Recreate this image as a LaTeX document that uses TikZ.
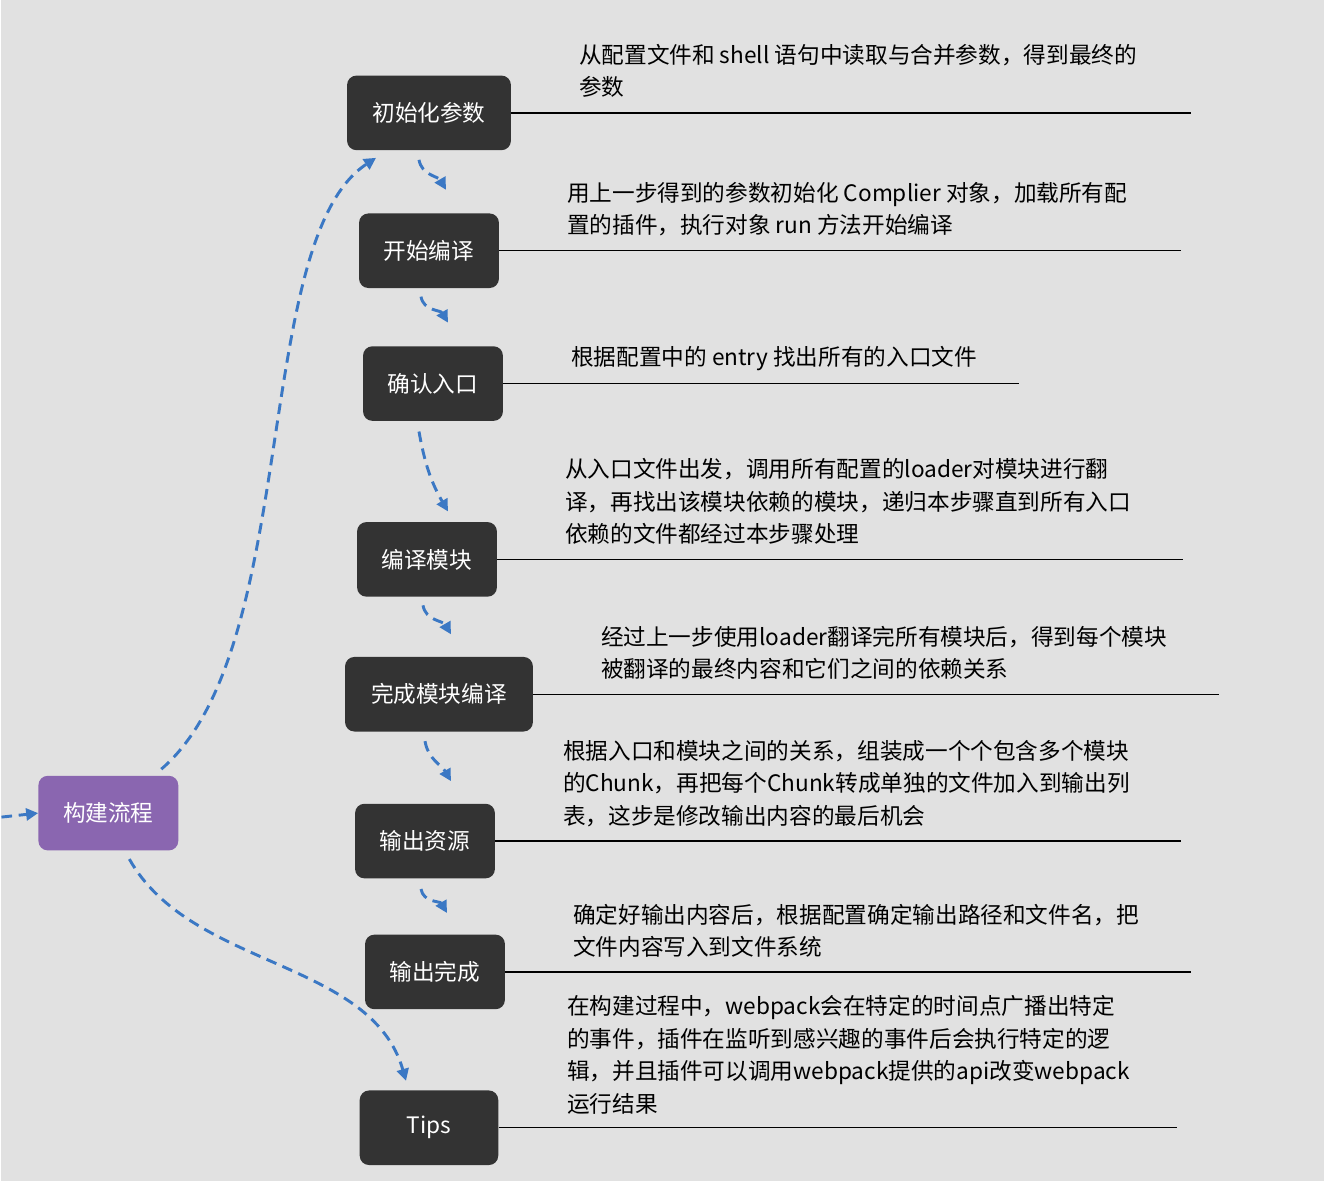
\documentclass[tikz,border=0pt]{standalone}
\usepackage{fontspec}
\setmainfont{Noto Sans CJK SC}
\usetikzlibrary{arrows.meta}
\definecolor{bg}{HTML}{E1E1E1}
\definecolor{box}{HTML}{333333}
\definecolor{purp}{HTML}{8A66B0}
\definecolor{arrc}{HTML}{3B78C4}
\begin{document}
\begin{tikzpicture}[x=0.75pt,y=-0.75pt,
  stepbox/.style={fill=box,rounded corners=7pt,text=white,font=\fontsize{17}{20}\selectfont,minimum height=56pt,inner sep=0pt},
  rootbox/.style={stepbox,fill=purp},
  desc/.style={anchor=west,align=left,inner sep=0pt,font=\fontsize{17}{24.5}\selectfont},
  uline/.style={line width=1pt,black},
  arr/.style={arrc,line width=2.2pt,dash pattern=on 8pt off 5pt,-{Triangle[length=9pt,width=9pt]}}]
\fill[bg] (0,0) rectangle (1324,1182);
\node[stepbox,minimum width=123pt] (n1) at (428,113) {初始化参数};
\node[stepbox,minimum width=105pt] (n2) at (428,251) {开始编译};
\node[stepbox,minimum width=105pt] (n3) at (432,384) {确认入口};
\node[stepbox,minimum width=105pt] (n4) at (426,560) {编译模块};
\node[stepbox,minimum width=141pt] (n5) at (438,695) {完成模块编译};
\node[stepbox,minimum width=105pt] (n6) at (424,842) {输出资源};
\node[stepbox,minimum width=105pt] (n7) at (434,973) {输出完成};
\node[stepbox,minimum width=104pt] (n8) at (428,1129) {Tips};
\node[rootbox,minimum width=105pt] (r) at (107,814) {构建流程};
\coordinate (e1) at (1191,113);
\coordinate (e2) at (1181,251);
\coordinate (e3) at (1019,384);
\coordinate (e4) at (1183,560);
\coordinate (e5) at (1219,695);
\coordinate (e6) at (1181,842);
\coordinate (e7) at (1191,973);
\coordinate (e8) at (1177,1129);
\foreach \i in {1,...,8} \draw[uline] (n\i.east) -- (e\i);
\node[desc] (d1) at (578,71) {从配置文件和 shell 语句中读取与合并参数，得到最终的\\参数};
\node[desc] (d2) at (566,209.5) {用上一步得到的参数初始化 Complier 对象，加载所有配\\置的插件，执行对象 run 方法开始编译};
\node[desc] (d3) at (570,359) {根据配置中的 entry 找出所有的入口文件};
\node[desc] (d4) at (564,502) {从入口文件出发，调用所有配置的loader对模块进行翻\\译，再找出该模块依赖的模块，递归本步骤直到所有入口\\依赖的文件都经过本步骤处理};
\node[desc] (d5) at (600,653.5) {经过上一步使用loader翻译完所有模块后，得到每个模块\\被翻译的最终内容和它们之间的依赖关系};
\node[desc] (d6) at (562,784.5) {根据入口和模块之间的关系，组装成一个个包含多个模块\\的Chunk，再把每个Chunk转成单独的文件加入到输出列\\表，这步是修改输出内容的最后机会};
\node[desc] (d7) at (572,932) {确定好输出内容后，根据配置确定输出路径和文件名，把\\文件内容写入到文件系统};
\node[desc] (d8) at (566,1056) {在构建过程中，webpack会在特定的时间点广播出特定\\的事件，插件在监听到感兴趣的事件后会执行特定的逻\\辑，并且插件可以调用webpack提供的api改变webpack\\运行结果};
% short arrows
\coordinate (a1) at (418,160); \coordinate (b1) at (445,190);
\coordinate (a2) at (420,297); \coordinate (b2) at (447,323);
\coordinate (a3) at (418,432); \coordinate (b3) at (447,512);
\coordinate (a4) at (422,606); \coordinate (b4) at (450,635);
\coordinate (a5) at (424,742); \coordinate (b5) at (450,782);
\coordinate (a6) at (420,890); \coordinate (b6) at (446,914);
\foreach \i in {1,...,6} \draw[arr] (a\i) to[out=-80,in=120] (b\i);
\draw[arr] (160,770) .. controls (300,650) and (250,240) .. (375,158);
\draw[arr] (128,860) .. controls (190,970) and (370,960) .. (405,1082);
\coordinate (s0) at (0,818);
\draw[arr] (s0) -- (r.west);
\end{tikzpicture}
\end{document}
